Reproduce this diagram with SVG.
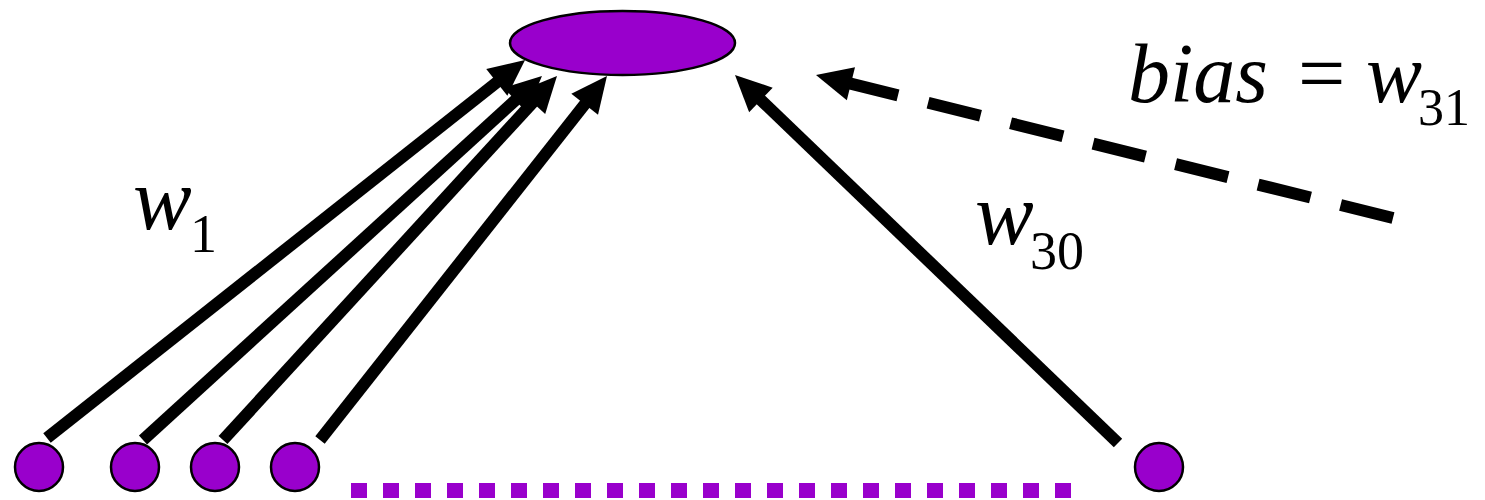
<svg xmlns="http://www.w3.org/2000/svg" width="1485" height="500" viewBox="0 0 1485 500">
<style>
.node{fill:#9900CC;stroke:#000;stroke-width:2.5}
.edge{stroke:#000;stroke-width:12;fill:none}
.dash{stroke-dasharray:54 31}
</style>
<defs>
<marker id="ah" markerUnits="userSpaceOnUse" orient="auto" markerWidth="40" markerHeight="40" refX="6" refY="18" viewBox="0 0 40 36" overflow="visible">
<path d="M0,1 L36,18 L0,35 Z" fill="#000"/>
</marker>
</defs>
<rect width="1485" height="500" fill="#fff"/>
<g id="output"><ellipse class="node" cx="622.5" cy="43" rx="112.5" ry="32"/></g>
<g id="in1"><circle class="node" cx="39" cy="467" r="24"/></g>
<g id="in2"><circle class="node" cx="135" cy="467" r="24"/></g>
<g id="in3"><circle class="node" cx="215" cy="467" r="24"/></g>
<g id="in4"><circle class="node" cx="295" cy="467" r="24"/></g>
<g id="in30"><circle class="node" cx="1159" cy="467" r="24"/></g>
<g id="dots"><line x1="351" y1="490.5" x2="1071" y2="490.5" stroke="#9900CC" stroke-width="15" stroke-dasharray="16 16"/></g>
<g id="connectors">
<line class="edge" x1="47" y1="438" x2="501.5" y2="78.6" marker-end="url(#ah)"/>
<line class="edge" x1="143" y1="440" x2="519.8" y2="96.2" marker-end="url(#ah)"/>
<line class="edge" x1="223" y1="440" x2="536.7" y2="98.1" marker-end="url(#ah)"/>
<line class="edge" x1="320" y1="440" x2="588.4" y2="99.6" marker-end="url(#ah)"/>
<line class="edge" x1="1118" y1="443" x2="756.6" y2="95.8" marker-end="url(#ah)"/>
<line class="edge dash" x1="1393" y1="218" x2="845.1" y2="82.2" marker-end="url(#ah)"/>
</g>
<g id="labels" fill="#000">
<text x="133" y="229" font-family="Liberation Serif" font-style="italic" font-size="88">w</text>
<text x="190" y="252" font-family="Liberation Serif" font-size="54">1</text>
<text x="975" y="244" font-family="Liberation Serif" font-style="italic" font-size="88">w</text>
<text x="1030" y="269" font-family="Liberation Serif" font-size="54">30</text>
<text x="1128" y="102" font-family="Liberation Serif" font-style="italic" font-size="84">bias</text>
<text x="1298" y="102" font-family="Liberation Serif" font-size="84">=</text>
<text x="1366" y="102" font-family="Liberation Serif" font-style="italic" font-size="84">w</text>
<text x="1418" y="125" font-family="Liberation Serif" font-size="52">31</text>
</g>
</svg>
